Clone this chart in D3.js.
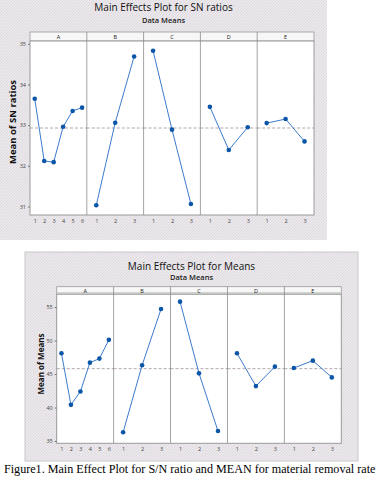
<!DOCTYPE html>
<html>
<head>
<meta charset="utf-8">
<script src="https://cdn.jsdelivr.net/npm/d3@7"></script>
<style>
  body { margin: 0; background: #fff; }
  svg { display: block; }
</style>
</head>
<body>
<svg id="chart" width="382" height="484"></svg>
<script>
// factors and their levels
const factors = ['A', 'B', 'C', 'D', 'E'];
const levels6 = ['1', '2', '3', '4', '5', '6'];
const levels3 = ['1', '2', '3'];

// S/N ratio means per level
const snA = [33.65, 32.12, 32.09, 32.96, 33.35, 33.43];
const snB = [31.03, 33.06, 34.69];
const snC = [34.83, 32.89, 31.06];
const snD = [33.45, 32.39, 32.95];
const snE = [33.05, 33.15, 32.60];
const snTicks = [31, 32, 33, 34, 35];

// means per level
const meanA = [48.1, 40.4, 42.4, 46.7, 47.3, 50.1];
const meanB = [36.3, 46.3, 54.7];
const meanC = [55.8, 45.1, 36.5];
const meanD = [48.1, 43.2, 46.1];
const meanE = [45.9, 47.0, 44.5];
const meanTicks = [35, 40, 45, 50, 55];

const svg = d3.select('#chart');
const font = "'Open Sans', 'Noto Sans', sans-serif";

// dithered grey backdrop like the screenshot
const defs = svg.append('defs');
const pat = defs.append('pattern')
  .attr('id', 'dither')
  .attr('width', 3)
  .attr('height', 3)
  .attr('patternUnits', 'userSpaceOnUse');
pat.append('rect').attr('width', 3).attr('height', 3).attr('fill', '#ebe7ec');
[[0, 0, '#dcdcdc'], [2, 1, '#e0dde2'], [1, 2, '#d9dbdb'], [2, 2, '#efe6ee']].forEach(([px, py, c]) => {
  pat.append('rect').attr('x', px).attr('y', py).attr('width', 1).attr('height', 1).attr('fill', c);
});

function drawPlot(cfg) {
  const g = svg.append('g');
  const { bg, plot } = cfg;

  g.append('rect')
    .attr('x', bg.x).attr('y', bg.y)
    .attr('width', bg.w).attr('height', bg.h)
    .attr('fill', 'url(#dither)')
    .attr('stroke', cfg.bgStroke || 'none');

  const cx = bg.x + bg.w / 2;
  g.append('text')
    .attr('x', cx).attr('y', cfg.titleY)
    .attr('text-anchor', 'middle')
    .attr('font-family', font)
    .attr('font-size', 10)
    .attr('fill', '#111')
    .text(cfg.title);
  g.append('text')
    .attr('x', cx).attr('y', cfg.subY)
    .attr('text-anchor', 'middle')
    .attr('font-family', font)
    .attr('font-size', 7.5)
    .attr('font-weight', 600)
    .attr('fill', '#222')
    .text('Data Means');

  // strip header + plot area
  g.append('rect')
    .attr('x', plot.x).attr('y', cfg.stripY)
    .attr('width', plot.w).attr('height', plot.y - cfg.stripY)
    .attr('fill', '#f7f7f7')
    .attr('stroke', '#9a9a9a')
    .attr('stroke-width', 0.8);
  g.append('rect')
    .attr('x', plot.x).attr('y', plot.y)
    .attr('width', plot.w).attr('height', plot.h)
    .attr('fill', '#fff')
    .attr('stroke', '#9a9a9a')
    .attr('stroke-width', 1);
  if (cfg.stripBand) {
    g.append('line')
      .attr('x1', plot.x).attr('x2', plot.x + plot.w)
      .attr('y1', plot.y - 1).attr('y2', plot.y - 1)
      .attr('stroke', '#c4c9c4')
      .attr('stroke-width', 2);
  }

  const y = d3.scaleLinear().domain(cfg.yDomain).range([plot.y + plot.h, plot.y]);
  const panel = d3.scaleBand().domain(factors).range([plot.x, plot.x + plot.w]);

  const grand = d3.mean(cfg.series, (s) => d3.mean(s.values));

  // y axis
  const yAxis = d3.axisLeft(y)
    .tickValues(cfg.ticks)
    .tickFormat(d3.format('d'))
    .tickSize(2)
    .tickPadding(2);
  const ya = g.append('g')
    .attr('transform', `translate(${plot.x},0)`)
    .call(yAxis);
  ya.select('.domain').remove();
  ya.selectAll('line').attr('stroke', '#777');
  ya.selectAll('text')
    .attr('font-family', font)
    .attr('font-size', 5.5)
    .attr('fill', '#444');

  g.append('text')
    .attr('transform', `translate(${cfg.yLabelX},${cfg.yLabelY}) rotate(-90)`)
    .attr('text-anchor', 'middle')
    .attr('dominant-baseline', 'central')
    .attr('font-family', font)
    .attr('font-size', cfg.yLabelSize)
    .attr('font-weight', 700)
    .attr('fill', '#111')
    .text(cfg.yLabel);

  cfg.series.forEach((s, i) => {
    const x0 = panel(s.factor);
    const x = d3.scalePoint().domain(s.levels).range([x0, x0 + panel.bandwidth()]).padding(0.5);
    const pts = s.levels.map((lv, j) => ({ lv, v: s.values[j] }));

    if (i > 0) {
      g.append('line')
        .attr('x1', x0).attr('x2', x0)
        .attr('y1', cfg.stripY).attr('y2', plot.y + plot.h)
        .attr('stroke', '#8c8c8c')
        .attr('stroke-width', 0.8);
    }
    g.append('text')
      .attr('x', x0 + panel.bandwidth() / 2)
      .attr('y', cfg.stripY + (plot.y - cfg.stripY) / 2)
      .attr('text-anchor', 'middle')
      .attr('dominant-baseline', 'central')
      .attr('font-family', font)
      .attr('font-size', 5.5)
      .attr('fill', '#222')
      .text(s.factor);

    // grand mean reference
    g.append('line')
      .attr('x1', x0).attr('x2', x0 + panel.bandwidth())
      .attr('y1', y(grand)).attr('y2', y(grand))
      .attr('stroke', '#9e8f98')
      .attr('stroke-width', 0.8)
      .attr('stroke-dasharray', '3,2');

    const xAxis = d3.axisBottom(x).tickSize(0).tickPadding(4);
    const xa = g.append('g')
      .attr('transform', `translate(0,${plot.y + plot.h})`)
      .call(xAxis);
    xa.select('.domain').remove();
    xa.selectAll('text')
      .attr('font-family', font)
      .attr('font-size', 5.5)
      .attr('fill', '#444');

    g.append('path')
      .datum(pts)
      .attr('fill', 'none')
      .attr('stroke', '#3c7bcc')
      .attr('stroke-width', 1)
      .attr('d', d3.line().x((d) => x(d.lv)).y((d) => y(d.v)));
    g.selectAll(null)
      .data(pts)
      .enter()
      .append('circle')
      .attr('cx', (d) => x(d.lv))
      .attr('cy', (d) => y(d.v))
      .attr('r', 2.3)
      .attr('fill', '#0c56a8');
  });
}

drawPlot({
  bg: { x: 0, y: 0, w: 327, h: 240 },
  plot: { x: 30, y: 41, w: 284, h: 174 },
  stripY: 32,
  titleY: 11,
  subY: 22.5,
  title: 'Main Effects Plot for SN ratios',
  yLabel: 'Mean of SN ratios',
  yLabelX: 12,
  yLabelY: 122,
  yLabelSize: 9.5,
  yDomain: [30.79, 35.07],
  ticks: snTicks,
  series: [
    { factor: 'A', levels: levels6, values: snA },
    { factor: 'B', levels: levels3, values: snB },
    { factor: 'C', levels: levels3, values: snC },
    { factor: 'D', levels: levels3, values: snD },
    { factor: 'E', levels: levels3, values: snE },
  ],
});

drawPlot({
  bg: { x: 25, y: 252, w: 333, h: 209 },
  bgStroke: '#c8c8c8',
  plot: { x: 56.7, y: 294.3, w: 284.6, h: 149 },
  stripY: 286.7,
  stripBand: true,
  titleY: 269.5,
  subY: 280,
  title: 'Main Effects Plot for Means',
  yLabel: 'Mean of Means',
  yLabelX: 40,
  yLabelY: 364,
  yLabelSize: 8,
  yDomain: [34.66, 56.9],
  ticks: meanTicks,
  series: [
    { factor: 'A', levels: levels6, values: meanA },
    { factor: 'B', levels: levels3, values: meanB },
    { factor: 'C', levels: levels3, values: meanC },
    { factor: 'D', levels: levels3, values: meanD },
    { factor: 'E', levels: levels3, values: meanE },
  ],
});

// caption: shrink font so it fits the page width
const caption = svg.append('text')
  .attr('x', 4)
  .attr('y', 473)
  .attr('font-family', "'Liberation Serif', 'Times New Roman', serif")
  .attr('font-size', 13)
  .attr('fill', '#000')
  .text('Figure1. Main Effect Plot for S/N ratio and MEAN for material removal rate');
const capLen = caption.node().getComputedTextLength();
if (capLen > 372) caption.attr('font-size', 13 * 372 / capLen);
</script>
</body>
</html>
